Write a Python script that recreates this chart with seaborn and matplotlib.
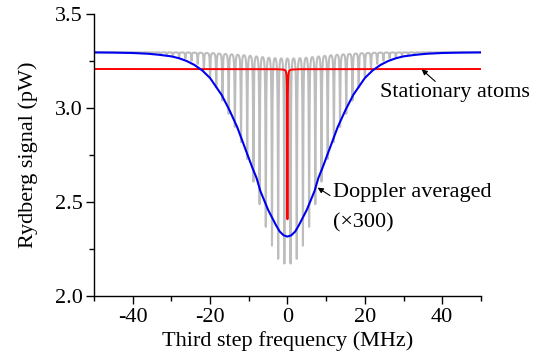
import numpy as np
import pandas as pd
import matplotlib
matplotlib.use("Agg")
import matplotlib.pyplot as plt
from matplotlib.ticker import MultipleLocator
import seaborn as sns

# ---------------- data ----------------
# Doppler averaged (x300) curve
blue_x = [-50, -45, -40, -36, -33, -30, -28, -26, -24, -22, -20, -19, -18, -17, -16, -15,
          -14, -13, -12, -11, -10, -9, -8, -7, -6, -5, -4, -3, -2, -1, 0,
          1, 2, 3, 4, 5, 6, 7, 8, 9, 10, 11, 12, 13, 14, 15, 16, 17, 18, 19, 20,
          22, 24, 26, 28, 30, 33, 36, 40, 45, 50]
blue_y = [3.296, 3.295, 3.293, 3.289, 3.283, 3.275, 3.265, 3.250, 3.229, 3.200, 3.160, 3.130,
          3.100, 3.070, 3.030, 2.990, 2.945, 2.900, 2.845, 2.790, 2.735, 2.680, 2.630, 2.560,
          2.510, 2.460, 2.420, 2.380, 2.345, 2.325, 2.318,
          2.325, 2.345, 2.380, 2.420, 2.460, 2.510, 2.560, 2.630, 2.680, 2.735, 2.790, 2.845,
          2.900, 2.945, 2.990, 3.030, 3.070, 3.100, 3.130, 3.160,
          3.200, 3.229, 3.250, 3.265, 3.275, 3.283, 3.289, 3.293, 3.295, 3.296]

# Stationary atoms curve
red_x = [-50, -3, -1, -0.5, -0.3, -0.2, -0.15, -0.1, -0.05, 0,
         0.05, 0.1, 0.15, 0.2, 0.3, 0.5, 1, 3, 50]
red_y = [3.208, 3.207, 3.205, 3.200, 3.186, 3.161, 3.128, 3.048, 2.808, 2.410,
         2.808, 3.048, 3.128, 3.161, 3.186, 3.200, 3.205, 3.207, 3.208]

# Velocity-class comb (gray): dip centres and dip minima
gray_centers = [-39.2, -37.6, -36.0, -34.4, -32.8, -31.2, -29.6, -28.0, -26.4, -24.8,
                -23.2, -21.6, -20.0, -18.4, -16.8, -15.2, -13.6, -12.0, -10.4, -8.8,
                -7.2, -5.6, -4.0, -2.4, -0.8,
                0.8, 2.4, 4.0, 5.6, 7.2, 8.8, 10.4, 12.0, 13.6, 15.2,
                16.8, 18.4, 20.0, 21.6, 23.2, 24.8, 26.4, 28.0, 29.6, 31.2,
                32.8, 34.4, 36.0, 37.6, 39.2]
gray_minima = [3.292, 3.291, 3.290, 3.288, 3.285, 3.282, 3.278, 3.272, 3.264, 3.252,
               3.235, 3.205, 3.165, 3.110, 3.040, 2.970, 2.900, 2.820, 2.730, 2.610,
               2.490, 2.370, 2.270, 2.200, 2.175,
               2.175, 2.200, 2.270, 2.370, 2.490, 2.610, 2.730, 2.820, 2.900, 2.970,
               3.040, 3.110, 3.165, 3.205, 3.235, 3.252, 3.264, 3.272, 3.278, 3.282,
               3.285, 3.288, 3.290, 3.291, 3.292]
gray_baseline = 3.297

x_ticks = [-40, -20, 0, 20, 40]
y_ticks = [2.0, 2.5, 3.0, 3.5]
y_tick_labels = ["2.0", "2.5", "3.0", "3.5"]

# ---------------- build the comb line from the read dips ----------------
gamma = 0.09  # dip half width (MHz), line shape only
c = np.array(gray_centers)
m = np.array(gray_minima)
L = gamma**2 / ((c[:, None] - c[None, :])**2 + gamma**2)
D = np.linalg.solve(L, gray_baseline - m)
xs = np.unique(np.concatenate([np.linspace(-50, 50, 20001), c]))
ys = gray_baseline - (D[None, :] * gamma**2 / ((xs[:, None] - c[None, :])**2 + gamma**2)).sum(axis=1)
gray_df = pd.DataFrame({"x": xs, "y": ys})
blue_df = pd.DataFrame({"x": blue_x, "y": blue_y})
red_df = pd.DataFrame({"x": red_x, "y": red_y})

# ---------------- plot ----------------
sns.set_theme(style="ticks")
plt.rcParams["font.family"] = ["Liberation Serif", "DejaVu Serif"]
FS = 16

fig = plt.figure(figsize=(5.44, 3.61), dpi=100)
ax = fig.add_axes([0.1728, 0.1787, 0.7112, 0.7825])

sns.lineplot(data=gray_df, x="x", y="y", ax=ax, color="#bdbdbd", lw=1.5,
             sort=False, estimator=None)
sns.lineplot(data=red_df, x="x", y="y", ax=ax, color="#ff0000", lw=1.4,
             sort=False, estimator=None)
sns.lineplot(data=blue_df, x="x", y="y", ax=ax, color="#0000f0", lw=1.5,
             sort=False, estimator=None)

ax.set_xlim(-50, 50)
ax.set_ylim(2.0, 3.5)
ax.set_xticks(x_ticks)
ax.set_xticklabels([str(t) for t in x_ticks])
ax.set_yticks(y_ticks)
ax.set_yticklabels(y_tick_labels)
ax.xaxis.set_minor_locator(MultipleLocator(10))
ax.yaxis.set_minor_locator(MultipleLocator(0.25))
ax.tick_params(axis="both", which="major", direction="out", length=6, width=1,
               labelsize=FS, colors="black", pad=2)
ax.tick_params(axis="both", which="minor", direction="out", length=3.5, width=1,
               colors="black")
for s in ["top", "right"]:
    ax.spines[s].set_visible(False)
for s in ["left", "bottom"]:
    ax.spines[s].set_color("black")
    ax.spines[s].set_linewidth(1)

ax.set_xlabel("Third step frequency (MHz)", fontsize=FS, labelpad=3, color="black")
ax.set_ylabel("Rydberg signal (pW)", fontsize=FS, labelpad=12, color="black")

arrow = dict(arrowstyle="-|>", color="black", lw=0.8, mutation_scale=8,
             shrinkA=0, shrinkB=0)
ax.annotate("", xy=(34.7, 3.206), xytext=(38.2, 3.142), arrowprops=arrow)
ax.text(23.9, 3.084, "Stationary atoms", fontsize=FS, ha="left", va="center",
        color="black")
ax.annotate("", xy=(7.8, 2.578), xytext=(11.0, 2.536), arrowprops=arrow)
ax.text(11.9, 2.551, "Doppler averaged", fontsize=FS, ha="left", va="center",
        color="black")
ax.text(11.9, 2.389, "(\u00d7300)", fontsize=FS, ha="left", va="center",
        color="black")

fig.savefig("out.png", dpi=100)
